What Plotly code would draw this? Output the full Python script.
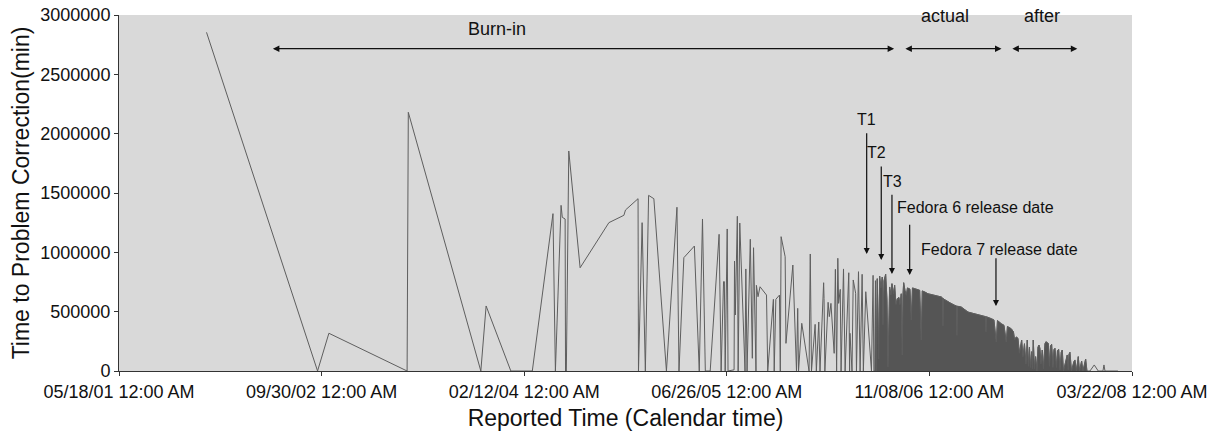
import pandas as pd
import plotly.graph_objects as go

# ---------------- data ----------------
BASE_DATE = "2001-05-18"  # origin of the calendar axis

# days after BASE_DATE at which each problem was reported
report_day = [
    216, 490, 518, 711, 714, 893, 906, 967, 1020, 1071,
    1077, 1091, 1094, 1101, 1102, 1104, 1110, 1138, 1209, 1246,
    1250, 1281, 1282, 1291, 1299, 1307, 1320, 1351, 1377, 1382,
    1394, 1420, 1432, 1437, 1440, 1447, 1459, 1481, 1486, 1492,
    1494, 1496, 1501, 1503, 1518, 1519, 1521, 1526, 1528, 1532,
    1545, 1547, 1550, 1558, 1563, 1566, 1572, 1573, 1577, 1582,
    1598, 1601, 1615, 1617, 1621, 1630, 1632, 1634, 1644, 1646,
    1663, 1672, 1675, 1677, 1685, 1703, 1704, 1706, 1709, 1718,
    1721, 1727, 1730, 1739, 1740, 1742, 1750, 1753, 1757, 1765,
    1768, 1771, 1774, 1776, 1780, 1782, 1788, 1792, 1801, 1803,
    1804, 1809, 1812, 1818, 1820, 1825, 1829, 1834, 1837, 1843,
    1857, 1861, 1863,
    # dense period
    1865.7, 1866.9, 1868.9, 1871.3, 1874.8, 1877.2, 1880.5, 1883.7, 1885.4, 1887.9,
    1892.1, 1895.3, 1897.7, 1900.2, 1901.9, 1905.1, 1907.6, 1911.3, 1914.3, 1917.5,
    1920.7, 1924.9, 1927.4, 1930.6, 1933.0, 1934.8, 1936.5, 1939.7, 1942.9, 1945.9,
    1948.8, 1952.0, 1955.3, 1958.2, 1963.6, 1969.3, 1976.0, 1979.9, 1982.4, 1989.0,
    1996.4, 2003.9, 2013.0, 2021.1, 2029.3, 2032.6, 2033.5, 2034.4, 2035.9, 2045.8,
    2053.2, 2062.3, 2067.2, 2068.0, 2068.8, 2070.5,
    2078.6, 2085.3, 2095.2, 2102.6, 2111.7, 2119.8, 2132.2, 2138.8, 2139.6, 2140.4,
    2142.1, 2152.7, 2159.3,
    2165.0, 2168.0, 2177.3, 2184.0, 2189.7, 2192.6, 2202.0, 2207.4, 2210.4, 2214.3,
    2218.5, 2222.2, 2227.7, 2230.9, 2234.6, 2238.3, 2241.5, 2244.5, 2246.9, 2249.4,
    2252.4, 2254.3, 2256.3, 2259.3, 2262.2, 2265.4, 2267.9, 2270.4, 2272.8, 2275.3,
    2278.5, 2281.5, 2285.2, 2287.6, 2290.1, 2293.3, 2296.3, 2298.8, 2301.7, 2304.9,
    2307.4, 2309.9, 2313.6, 2316.0, 2319.0, 2322.2, 2325.4, 2327.9, 2330.8, 2337.0,
    2340.2, 2342.7, 2344.4, 2346.9, 2350.6, 2356.7, 2359.2, 2362.9, 2365.4, 2367.4,
    2370.3, 2375.7, 2378.9, 2385.6, 2388.8,
    # tail
    2396.2, 2406.8, 2416.7, 2428.3, 2430.8, 2433.3, 2465.3,
]

# time to problem correction, minutes
fix_minutes = [
    2854000, 0, 318000, 0, 2180000, 0, 548000, 0, 0, 1326000,
    0, 1396000, 1295000, 1281000, 0, 0, 1854000, 870000, 1250000, 1312000,
    1357000, 1452000, 0, 1250000, 0, 1480000, 1452000, 0, 1380000, 0,
    955000, 1053000, 0, 986000, 1281000, 0, 0, 1152000, 0, 753000,
    753000, 0, 1197000, 0, 10000, 927000, 472000, 1304000, 0, 1247000,
    0, 860000, 0, 1110000, 107000, 1039000, 0, 722000, 626000, 710000,
    640000, 0, 604000, 0, 604000, 640000, 0, 1132000, 963000, 233000,
    893000, 0, 528000, 0, 402000, 0, 747000, 986000, 0, 393000,
    0, 413000, 0, 744000, 612000, 0, 579000, 458000, 570000, 149000,
    857000, 0, 950000, 570000, 688000, 0, 860000, 0, 828000, 0,
    318000, 0, 767000, 655000, 0, 837000, 0, 815000, 0, 668000,
    0, 806000, 0,
    # dense period
    0, 760000, 0, 778000, 100000, 800000, 700000, 792000, 390000, 760000,
    815000, 600000, 35000, 580000, 708000, 640000, 736000, 650000, 722000, 560000,
    609000, 620000, 560000, 651000, 135000, 640000, 744000, 680000, 638000, 700000,
    694000, 690000, 430000, 700000, 694000, 690000, 680000, 261000, 675000, 665000,
    651000, 645000, 638000, 630000, 624000, 615000, 380000, 610000, 605000, 581000,
    570000, 554000, 548000, 300000, 546000, 545000,
    539000, 520000, 497000, 490000, 483000, 476000, 469000, 458000, 330000, 457000,
    455000, 441000, 430000,
    244000, 425000, 399000, 385000, 244000, 375000, 356000, 330000, 261000, 287000,
    276000, 150000, 261000, 120000, 230000, 60000, 261000, 40000, 200000, 30000,
    163000, 20000, 261000, 20000, 121000, 0, 200000, 219000, 190000, 60000,
    177000, 20000, 230000, 247000, 240000, 233000, 40000, 210000, 225000, 30000,
    180000, 191000, 30000, 170000, 183000, 10000, 160000, 177000, 0, 100000,
    135000, 10000, 140000, 158000, 0, 80000, 93000, 0, 110000, 121000,
    0, 84000, 0, 101000, 0,
    # tail
    0, 51000, 0, 0, 51000, 0, 0,
]
assert len(report_day) == len(fix_minutes)

# period in which reports are so frequent that the curve reads as a solid area
DENSE_FROM_DAY, DENSE_TO_DAY = 1865.7, 2388.8

x_tick_start, x_tick_end = "2001-05-18", "2008-03-22"
x_tick_step_days = 500

# ---------------- figure ----------------
base = pd.Timestamp(BASE_DATE)
df = pd.DataFrame({"day": report_day, "ttc": fix_minutes})
df["date"] = base + pd.to_timedelta(df["day"], unit="D")
dense = df[(df["day"] >= DENSE_FROM_DAY) & (df["day"] <= DENSE_TO_DAY)]


def d(day):
    return (base + pd.Timedelta(days=day)).strftime("%Y-%m-%d %H:%M:%S")


FONT = "Liberation Sans, Arial, sans-serif"
LINE = "#5e5e5e"

fig = go.Figure()
fig.add_trace(go.Scatter(
    x=dense["date"], y=dense["ttc"], mode="lines",
    line=dict(color="#555555", width=0.8),
    fill="tozeroy", fillcolor="#555555", hoverinfo="skip",
))
fig.add_trace(go.Scatter(
    x=df["date"], y=df["ttc"], mode="lines",
    line=dict(color=LINE, width=1),
))

ann = []
# top period labels and double-headed arrows
ARROW_Y = 2716000
for label, left, right, tx, ty in [
    ("Burn-in", 376, 1913, 933, 2882000),
    ("actual", 1937, 2178, 2038, 2992000),
    ("after", 2201, 2365, 2278, 2992000),
]:
    ann.append(dict(x=d(right), y=ARROW_Y, ax=d(left), ay=ARROW_Y,
                    xref="x", yref="y", axref="x", ayref="y", text="",
                    showarrow=True, arrowhead=2, arrowsize=1, arrowwidth=1.3,
                    arrowside="end+start", arrowcolor="#111111"))
    ann.append(dict(x=d(tx), y=ty, xref="x", yref="y", text=label,
                    showarrow=False,
                    font=dict(family=FONT, size=18, color="#111111")))

# event markers
for label, tx, ty, axd, tip, tail in [
    ("T1", 1845.2, 2121000, 1845.2, 986000, 2017000),
    ("T2", 1870.6, 1840000, 1881.2, 935000, 1736000),
    ("T3", 1910.1, 1601000, 1907.6, 817000, 1497500),
    ("Fedora 6 release date", 2113.2, 1376000, 1951.3, 809000, 1245000),
    ("Fedora 7 release date", 2173.4, 1026000, 2164.3, 548000, 963000),
]:
    ann.append(dict(x=d(axd), y=tip, ax=d(axd), ay=tail,
                    xref="x", yref="y", axref="x", ayref="y", text="",
                    showarrow=True, arrowhead=2, arrowsize=1, arrowwidth=1.2,
                    arrowcolor="#111111"))
    ann.append(dict(x=d(tx), y=ty, xref="x", yref="y", text=label,
                    showarrow=False,
                    font=dict(family=FONT, size=16, color="#111111")))

fig.update_layout(
    width=1222, height=435,
    margin=dict(l=119, r=90, t=15, b=64, autoexpand=False),
    paper_bgcolor="white", plot_bgcolor="#d9d9d9",
    showlegend=False,
    font=dict(family=FONT, size=18, color="#111111"),
    annotations=ann,
)
fig.update_xaxes(
    range=[x_tick_start, x_tick_end],
    tickmode="linear", tick0=x_tick_start,
    dtick=x_tick_step_days * 86400000,
    tickformat="%m/%d/%y %I:%M %p",
    showgrid=False, zeroline=False, automargin=False,
    showline=True, linecolor="#333333", linewidth=1,
    ticks="outside", ticklen=4, tickcolor="#333333",
    tickfont=dict(size=18),
    title=dict(text="Reported Time (Calendar time)", font=dict(size=23), standoff=9),
)
fig.update_yaxes(
    range=[0, 3000000], tickmode="linear", tick0=0, dtick=500000,
    tickformat="d",
    showgrid=False, zeroline=False, automargin=False,
    showline=True, linecolor="#333333", linewidth=1,
    ticks="outside", ticklen=4, tickcolor="#333333",
    tickfont=dict(size=18),
    title=dict(text="Time to Problem Correction(min)", font=dict(size=23), standoff=4),
)

fig.write_html("out.html")
